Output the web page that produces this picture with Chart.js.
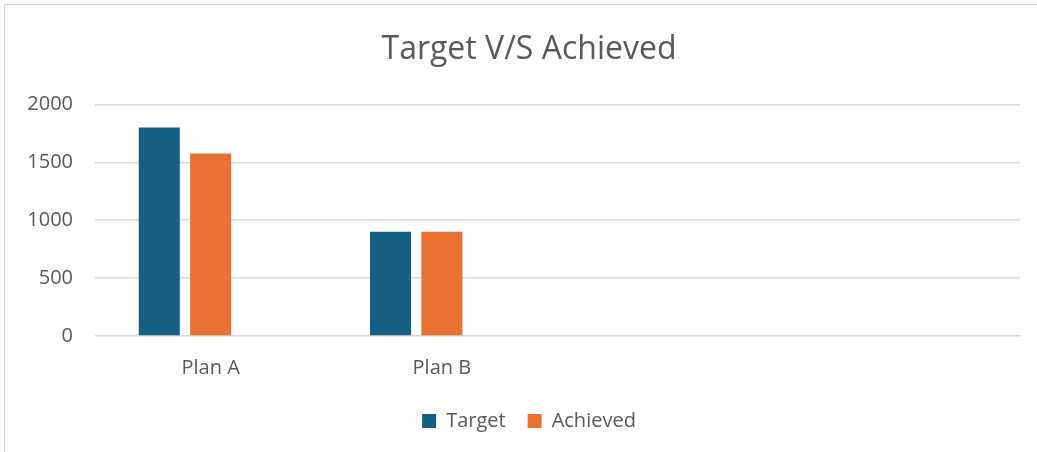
<!DOCTYPE html>
<html>
<head>
<meta charset="utf-8">
<script src="https://cdn.jsdelivr.net/npm/chart.js@4"></script>
<style>
  html, body { margin: 0; padding: 0; background: #fff; }
  #wrap { position: relative; width: 1037px; height: 452px; overflow: hidden; }
  #frame { position: absolute; left: 4px; top: 4px; width: 1040px; height: 460px;
           border-top: 1px solid #d9d9d9; border-left: 1px solid #d9d9d9; }
  canvas { position: absolute; left: 0; top: 0; }
</style>
</head>
<body>
<div id="wrap">
  <div id="frame"></div>
  <canvas id="chart" width="1037" height="452"></canvas>
</div>
<script>
// categories (last two are empty slots in the source sheet)
const CATEGORIES = ['Plan A', 'Plan B', '', ''];
const TARGET = [1800, 900, null, null];
const ACHIEVED = [1575, 900, null, null];
const EMPTY_SERIES = [null, null, null, null];
const Y_TICKS = [0, 500, 1000, 1500, 2000];

const TEXT = '#595959';
const FONT = "'Open Sans', 'Noto Sans', sans-serif";

function bar(label, data, color) {
  return {
    label,
    data,
    backgroundColor: color,
    borderWidth: 0,
    categoryPercentage: 0.666,
    barPercentage: 0.8,
  };
}

// the source frame is wider than the picture, so title and legend sit a bit right of centre
const nudgeBlocks = {
  id: 'nudgeBlocks',
  afterLayout(chart) {
    for (const box of [chart.titleBlock, chart.legend]) {
      if (!box) continue;
      box.left += 9;
      box.right += 9;
    }
  },
};

new Chart(document.getElementById('chart').getContext('2d'), {
  type: 'bar',
  data: {
    labels: CATEGORIES,
    datasets: [
      bar('Target', TARGET, '#156082'),
      bar('Achieved', ACHIEVED, '#e97132'),
      bar('', EMPTY_SERIES, '#196b24'),
    ],
  },
  plugins: [nudgeBlocks],
  options: {
    responsive: false,
    animation: false,
    layout: { padding: { left: 20, right: 17, top: 31, bottom: 11 } },
    plugins: {
      title: {
        display: true,
        text: 'Target V/S Achieved',
        color: TEXT,
        font: { family: FONT, size: 32, weight: 'normal' },
        padding: { top: 0, bottom: 35 },
      },
      legend: {
        position: 'bottom',
        labels: {
          color: TEXT,
          font: { family: FONT, size: 20 },
          boxWidth: 14,
          boxHeight: 14,
          padding: 22,
          filter: item => item.text !== '',
        },
      },
      tooltip: { enabled: false },
    },
    scales: {
      x: {
        grid: { display: false },
        border: { display: false },
        ticks: { color: TEXT, font: { family: FONT, size: 20 }, padding: 12 },
        afterFit: axis => { axis.height = 53; },
      },
      y: {
        min: 0,
        max: 2000,
        afterBuildTicks: axis => { axis.ticks = Y_TICKS.map(v => ({ value: v })); },
        grid: { color: '#d9d9d9', lineWidth: 1.5, drawTicks: false },
        border: { display: false },
        ticks: {
          color: TEXT,
          font: { family: FONT, size: 20 },
          padding: 22,
          callback: v => String(v),
        },
        afterFit: axis => { axis.width = 75; },
      },
    },
  },
});
</script>
</body>
</html>
